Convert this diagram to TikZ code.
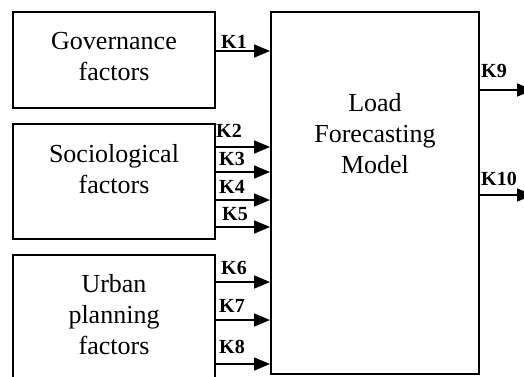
\documentclass[tikz,border=0pt]{standalone}
\usepackage{fontspec}
\setmainfont{Liberation Serif}
\usetikzlibrary{arrows.meta}
\begin{document}
\begin{tikzpicture}[x=1pt,y=-1pt,
    box/.style={draw,line width=2pt,minimum width=202pt},
    txt/.style={align=center,inner sep=0pt,font=\fontsize{26}{31}\selectfont},
    klab/.style={anchor=base west,inner sep=0pt,font=\fontsize{20}{20}\selectfont\bfseries},
    feed/.style={line width=1.6pt,-{Triangle[length=16pt,width=13pt]}}]
            \useasboundingbox (0,0) rectangle (524,376);
            \clip (0,0) rectangle (524,376);

            \node[box, minimum height=96pt] (gov) at (114,60) {};
            \node[box, minimum height=115pt] (soc) at (114,181.5) {};
            \node[box, minimum height=140pt] (urb) at (114,325) {};
            \node[box, minimum width=208pt, minimum height=362pt] (model) at (375,193) {};

            \node[txt] (govtext) at (114,56.5) {Governance\\factors};
            \node[txt] (soctext) at (114,169.5) {Sociological\\factors};
            \node[txt] (urbtext) at (114,314.5) {Urban\\planning\\factors};
            \node[txt] (modeltext) at (375,133.5) {Load\\Forecasting\\Model};

            \coordinate (k1) at (gov.east |- 0,51);
            \coordinate (k2) at (soc.east |- 0,147);
            \coordinate (k3) at (soc.east |- 0,172);
            \coordinate (k4) at (soc.east |- 0,200);
            \coordinate (k5) at (soc.east |- 0,227);
            \coordinate (k6) at (urb.east |- 0,282);
            \coordinate (k7) at (urb.east |- 0,320);
            \coordinate (k8) at (urb.east |- 0,364);
            \coordinate (k9) at (533,90);
            \coordinate (k10) at (533,195);

            \draw[feed] (k1) -- (k1 -| model.west);
            \draw[feed] (k2) -- (k2 -| model.west);
            \draw[feed] (k3) -- (k3 -| model.west);
            \draw[feed] (k4) -- (k4 -| model.west);
            \draw[feed] (k5) -- (k5 -| model.west);
            \draw[feed] (k6) -- (k6 -| model.west);
            \draw[feed] (k7) -- (k7 -| model.west);
            \draw[feed] (k8) -- (k8 -| model.west);
            \draw[feed] (k9 -| model.east) -- (k9);
            \draw[feed] (k10 -| model.east) -- (k10);

            \node[klab] (lab1) at (221,48) {K1};
            \node[klab] (lab2) at (216,137) {K2};
            \node[klab] (lab3) at (219,165) {K3};
            \node[klab] (lab4) at (219,193) {K4};
            \node[klab] (lab5) at (222,220) {K5};
            \node[klab] (lab6) at (221,274) {K6};
            \node[klab] (lab7) at (219,312) {K7};
            \node[klab] (lab8) at (219,353) {K8};
            \node[klab] (lab9) at (481,77) {K9};
            \node[klab] (lab10) at (481,185) {K10};
        \end{tikzpicture}
\end{document}
